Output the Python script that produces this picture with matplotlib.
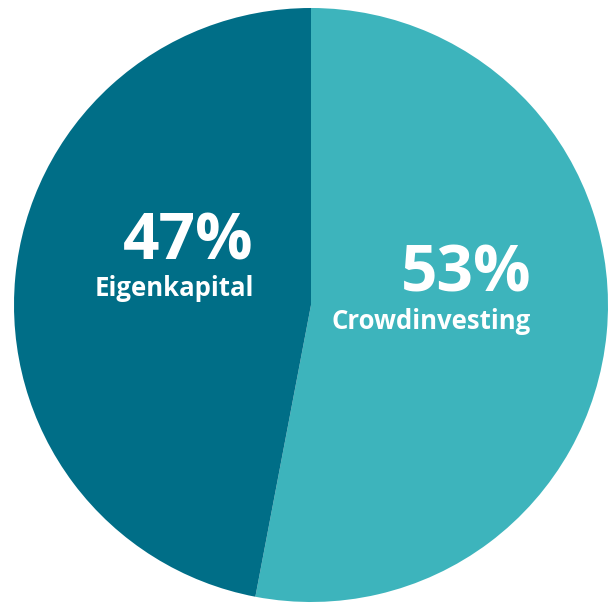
import matplotlib.pyplot as plt

labels = ["Crowdinvesting", "Eigenkapital"]
shares = [53, 47]
colors = ["#3db4bc", "#006e87"]

fig = plt.figure(figsize=(6.14, 6.05), dpi=100)
ax = fig.add_axes([0, 0, 1, 1])
ax.pie(shares, colors=colors, startangle=90, counterclock=False,
       center=(311, 300), radius=297, wedgeprops=dict(linewidth=0))
ax.set_xlim(0, 614)
ax.set_ylim(0, 605)
ax.set_aspect("auto")
ax.axis("off")

# label positions (right-aligned) in pixel coordinates, y measured from bottom
pos = {"Crowdinvesting": (531, 314, 276), "Eigenkapital": (254, 345, 309)}
for name, val in zip(labels, shares):
    x, y_pct, y_lab = pos[name]
    ax.text(x, y_pct, f"{val}%", ha="right", va="baseline", color="white",
            fontsize=46, fontweight="bold", family="Open Sans")
    ax.text(x, y_lab, name, ha="right", va="baseline", color="white",
            fontsize=18.5, fontweight="bold", family="Open Sans")

fig.savefig("out.png", dpi=100)
